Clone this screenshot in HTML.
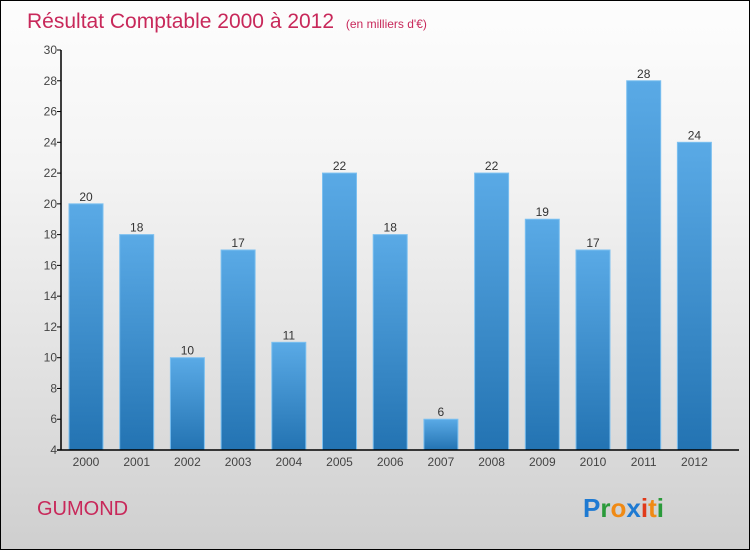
<!DOCTYPE html>
<html><head><meta charset="utf-8"><style>
body{margin:0;}
#wrap{position:relative;width:748px;height:548px;border:1px solid #000;background:linear-gradient(#fdfdfd,#f4f4f4 30%,#e0e0e0 70%,#cfcfcf);font-family:"Liberation Sans",sans-serif;overflow:hidden}
</style></head><body>
<div id="wrap">
<svg width="748" height="548">
<defs><linearGradient id="bg" x1="0" y1="0" x2="0" y2="1"><stop offset="0" stop-color="#5aaae6"/><stop offset="1" stop-color="#2373b2"/></linearGradient></defs>
<text x="26" y="27" font-size="21" fill="#c8285a">Résultat Comptable 2000 à 2012 <tspan font-size="12" dx="6">(en milliers d'€)</tspan></text>
<g id="plot"></g>
<text x="36" y="514" font-size="20" fill="#c8285a">GUMOND</text>
<text x="582" y="516" font-size="26" font-weight="bold"><tspan fill="#1e7ad2">P</tspan><tspan fill="#2a9a3a">r</tspan><tspan fill="#f08a14">o</tspan><tspan fill="#1e7ad2">x</tspan><tspan fill="#e03a1a">i</tspan><tspan fill="#f08a14">t</tspan><tspan fill="#2a9a3a">i</tspan></text>
</svg>
</div>
<script>
const years=["2000","2001","2002","2003","2004","2005","2006","2007","2008","2009","2010","2011","2012"];
const values=[20,18,10,17,11,22,18,6,22,19,17,28,24];
const yTicks=[4,6,8,10,12,14,16,18,20,22,24,26,28,30];
const NS="http://www.w3.org/2000/svg";
const g=document.getElementById('plot');
const y0=449,y1=49,vmin=4,vmax=30,x0=60,step=50.7,first=85,bw=34;
const Y=v=>y0-(v-vmin)/(vmax-vmin)*(y0-y1);
const X=i=>first+i*step;
function mk(t,a){const e=document.createElementNS(NS,t);for(const k in a)e.setAttribute(k,a[k]);g.appendChild(e);return e;}
yTicks.forEach(v=>{
 const l=mk('line',{x1:x0-4,x2:x0,y1:Y(v),y2:Y(v),stroke:'#000'});
 
 
 const t=mk('text',{x:x0-4,y:Y(v)+4,'font-size':12,fill:'#444','text-anchor':'end'});
 t.textContent=v;
 
 
});
values.forEach((v,i)=>{
 const r=mk('rect',{x:X(i)-bw/2,y:Y(v),width:bw,height:y0-Y(v),fill:'url(#bg)',stroke:'#7cc0f0','stroke-width':1});
 
 
 const t=mk('text',{x:X(i),y:Y(v)-3,'font-size':12,fill:'#333','text-anchor':'middle'});
 t.textContent=v;
 
 
 const xl=mk('text',{x:X(i),y:y0+16,'font-size':12,fill:'#444','text-anchor':'middle'});
 xl.textContent=years[i];
 
 
});
const ya=mk('line',{x1:x0,x2:x0,y1:y1,y2:y0,stroke:'#000','stroke-width':1.5});


const xa=mk('line',{x1:x0-4,x2:738,y1:y0,y2:y0,stroke:'#000','stroke-width':1.5});


</script>
</body></html>
